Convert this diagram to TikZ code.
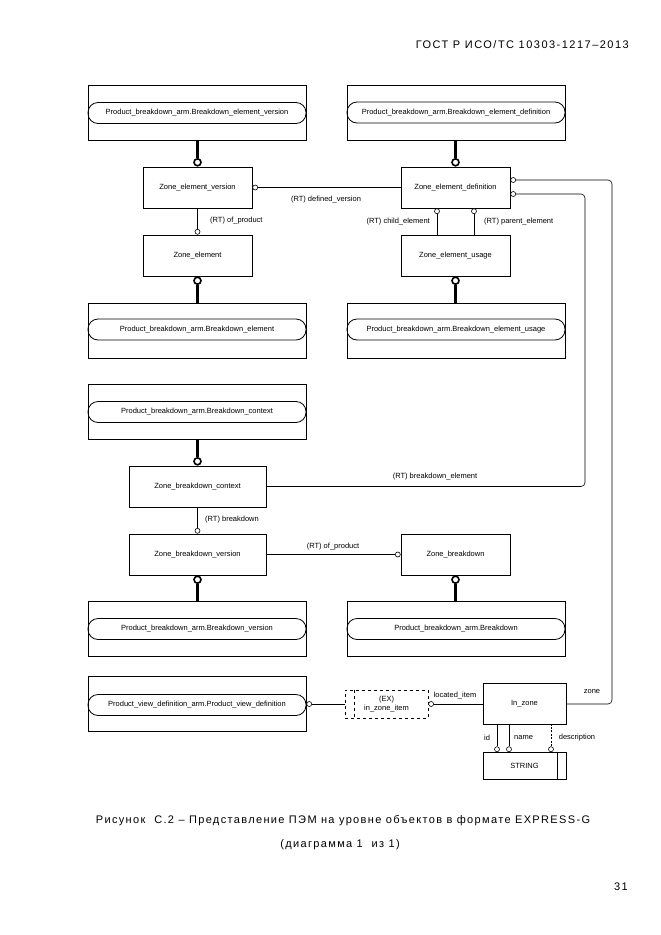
\documentclass[tikz,border=0pt]{standalone}
\usepackage{fontspec}
\setmainfont{Liberation Sans}
\newfontfamily\capfont[LetterSpace=12.3]{Liberation Sans}
\newfontfamily\hdrfont[LetterSpace=13.5]{Liberation Sans}
\usetikzlibrary{calc}
\begin{document}
\begin{tikzpicture}[x=1pt,y=-1pt,
  every node/.style={font=\fontsize{7.5}{9}\selectfont},
  ent/.style={draw, line width=0.8pt, inner sep=0pt, minimum height=41pt, align=center},
  pgbox/.style={draw, line width=0.8pt, inner sep=0pt, minimum width=218pt, minimum height=55pt},
  pgin/.style={draw, line width=0.8pt, rounded corners=10pt, inner sep=0pt, minimum width=218pt, minimum height=21pt},
  thk/.style={line width=2.4pt},
  bigc/.style={circle, draw, line width=1.6pt, fill=white, inner sep=0pt, minimum size=7pt},
  smc/.style={circle, draw, line width=0.6pt, fill=white, inner sep=0pt, minimum size=5pt},
  conn/.style={line width=0.6pt},
  lbl/.style={inner sep=1pt},
  captxt/.style={font=\capfont\fontsize{11}{13}\selectfont, inner sep=0pt},
  hdrtxt/.style={font=\hdrfont\fontsize{11}{13}\selectfont, inner sep=0pt}
]
\useasboundingbox[fill=white] (0,0) rectangle (661,935);

% header
\node[hdrtxt, anchor=east] (hdr) at (629,45) {ГОСТ Р ИСО/ТС 10303-1217–2013};

% page reference boxes
\node[pgbox] (pbev) at (197,112.5) {};
\node[pgin] (pbevi) at (197,113) {Product\_breakdown\_arm.Breakdown\_element\_version};
\node[pgbox] (pbed) at (456,112.5) {};
\node[pgin] (pbedi) at (456,112.5) {Product\_breakdown\_arm.Breakdown\_element\_definition};
\node[pgbox] (pbe) at (197,330.5) {};
\node[pgin] (pbei) at (197,329.5) {Product\_breakdown\_arm.Breakdown\_element};
\node[pgbox] (pbeu) at (456,330.5) {};
\node[pgin] (pbeui) at (456,329.5) {Product\_breakdown\_arm.Breakdown\_element\_usage};
\node[pgbox] (pbc) at (197,411.5) {};
\node[pgin] (pbci) at (197,412) {Product\_breakdown\_arm.Breakdown\_context};
\node[pgbox] (pbv) at (197,629) {};
\node[pgin] (pbvi) at (197,629) {Product\_breakdown\_arm.Breakdown\_version};
\node[pgbox] (pb) at (456,629) {};
\node[pgin] (pbi) at (456,629) {Product\_breakdown\_arm.Breakdown};
\node[pgbox] (pvd) at (197,704) {};
\node[pgin] (pvdi) at (197,705) {Product\_view\_definition\_arm.Product\_view\_definition};

% entities
\node[ent, minimum width=109pt] (zev) at (197.5,187.5) {Zone\_element\_version};
\node[ent, minimum width=109pt] (zed) at (455.5,187.5) {Zone\_element\_definition};
\node[ent, minimum width=109pt] (ze) at (197.5,255.5) {Zone\_element};
\node[ent, minimum width=109pt] (zeu) at (455.5,255.5) {Zone\_element\_usage};
\node[ent, minimum width=137pt] (zbc) at (197.5,486.5) {Zone\_breakdown\_context};
\node[ent, minimum width=137pt] (zbv) at (197.5,554.5) {Zone\_breakdown\_version};
\node[ent, minimum width=109pt] (zb) at (455.5,554.5) {Zone\_breakdown};
\node[ent, minimum width=83pt] (inz) at (524.5,704) {In\_zone};
\node[ent, minimum width=83pt, minimum height=27pt] (str) at (524.5,765.5) {STRING};
\draw[line width=0.8pt] ([xshift=-9pt]str.north east) -- ([xshift=-9pt]str.south east);
\node[ent, dashed, minimum width=83pt, minimum height=28pt, line width=0.6pt] (ex) at (386.5,704) {(EX)\\in\_zone\_item};
\draw[line width=0.6pt, dashed] ([xshift=10pt]ex.north west) -- ([xshift=10pt]ex.south west);

% thick connectors
\node[bigc, anchor=south] (c1) at (zev.north) {};
\draw[thk] (pbev.south -| c1) -- (c1.north);
\node[bigc, anchor=south] (c2) at (zed.north) {};
\draw[thk] (pbed.south -| c2) -- (c2.north);
\node[bigc, anchor=north] (c3) at (ze.south) {};
\draw[thk] (c3.south) -- (c3.south |- pbe.north);
\node[bigc, anchor=north] (c4) at (zeu.south) {};
\draw[thk] (c4.south) -- (c4.south |- pbeu.north);
\node[bigc, anchor=south] (c5) at (zbc.north) {};
\draw[thk] (pbc.south -| c5) -- (c5.north);
\node[bigc, anchor=north] (c6) at (zbv.south) {};
\draw[thk] (c6.south) -- (c6.south |- pbv.north);
\node[bigc, anchor=north] (c7) at (zb.south) {};
\draw[thk] (c7.south) -- (c7.south |- pb.north);

% thin connectors
\node[smc, anchor=west] (s1) at (zev.east) {};
\draw[conn] (s1.east) -- (zed.west);
\node[lbl] (l1) at (326,200) {(RT) defined\_version};

\node[smc, anchor=south] (s2) at (ze.north) {};
\draw[conn] (zev.south) -- (s2.north);
\node[lbl, anchor=west] (l2) at (209,221) {(RT) of\_product};

\node[smc, anchor=north] (s3) at ([xshift=-18.5pt]zed.south) {};
\draw[conn] (s3.south) -- (s3.south |- zeu.north);
\node[smc, anchor=north] (s4) at ([xshift=18.5pt]zed.south) {};
\draw[conn] (s4.south) -- (s4.south |- zeu.north);
\node[lbl, anchor=east] (l3) at (431,222) {(RT) child\_element};
\node[lbl, anchor=west] (l4) at (483,222) {(RT) parent\_element};

\node[smc, anchor=west] (s5) at ([yshift=7.5pt]zed.east) {};
\node[smc, anchor=west] (s6) at ([yshift=-6.5pt]zed.east) {};
\coordinate (rx1) at (612,0);
\coordinate (rx2) at (585,0);
\draw[conn, rounded corners=4pt] (zbc.east) -- (zbc.east -| rx2) -- (s6.east -| rx2) -- (s6.east);
\node[lbl] (l5) at (435,477) {(RT) breakdown\_element};
\draw[conn, rounded corners=4pt] (inz.east) -- (inz.east -| rx1) -- (s5.east -| rx1) -- (s5.east);
\node[lbl] (l6) at (592,692) {zone};

\node[smc, anchor=south] (s7) at (zbv.north) {};
\draw[conn] (zbc.south) -- (s7.north);
\node[lbl, anchor=west] (l7) at (204,520) {(RT) breakdown};

\node[smc, anchor=east] (s8) at (zb.west) {};
\draw[conn] (zbv.east) -- (s8.west);
\node[lbl] (l8) at (333,547) {(RT) of\_product};

\node[smc, anchor=west] (s9) at (pvd.east) {};
\draw[conn] (s9.east) -- (ex.west);
\node[smc, anchor=west] (s10) at (ex.east) {};
\draw[conn] (s10.east) -- (inz.west);
\node[lbl] (l9) at (455,696) {located\_item};

\node[smc, anchor=south] (s11) at (497,752) {};
\draw[line width=0.8pt] (s11.north) -- (s11.north |- inz.south);
\node[smc, anchor=south] (s12) at (509,752) {};
\draw[line width=0.8pt] (s12.north) -- (s12.north |- inz.south);
\node[smc, anchor=south] (s13) at (551,752) {};
\draw[conn, dash pattern=on 2pt off 1.5pt] (s13.north) -- (s13.north |- inz.south);
\node[lbl] (l10) at (487,738) {id};
\node[lbl, anchor=west] (l11) at (513,738) {name};
\node[lbl] (l12) at (577,738) {description};

% caption
\node[captxt] (cap1) at (343,821) {Рисунок\ \ С.2 – Представление ПЭМ на уровне объектов в формате EXPRESS-G};
\node[captxt] (cap2) at (340,845) {(диаграмма 1\ \ из 1)};
\node[captxt] (pg) at (621,887) {31};
\end{tikzpicture}
\end{document}
